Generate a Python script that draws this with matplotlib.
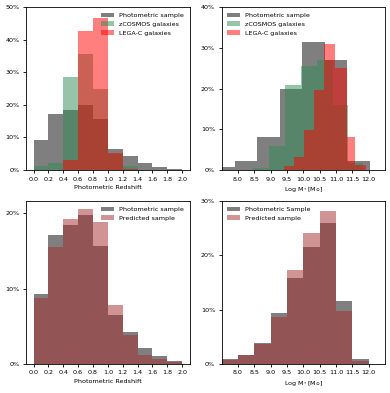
import numpy as np
import matplotlib
matplotlib.use("Agg")
import matplotlib.pyplot as plt
from matplotlib import rcParams
from matplotlib.ticker import PercentFormatter

rcParams['mathtext.default'] = 'regular'
rcParams['font.size'] = 4.6
rcParams['xtick.labelsize'] = 4.6
rcParams['ytick.labelsize'] = 4.6
rcParams['xtick.major.size'] = 2.2
rcParams['ytick.major.size'] = 2.2
rcParams['xtick.major.width'] = 0.6
rcParams['ytick.major.width'] = 0.6
rcParams['xtick.major.pad'] = 2.5
rcParams['ytick.major.pad'] = 2.5
rcParams['axes.linewidth'] = 0.6
rcParams['axes.labelpad'] = 2.5

# redshift histograms (percent per bin)
z_edges = np.round(np.arange(0, 2.01, 0.2), 2)
z_phot = [9.3, 17.2, 18.3, 19.8, 15.6, 6.5, 4.3, 2.1, 1.0, 0.4]
z_zcosmos = [1.2, 2.0, 28.4, 35.6, 25.0, 4.8, 1.3, 0, 0, 0]
z_legac = [0, 0, 3.2, 42.8, 46.8, 5.1, 0.4, 0, 0, 0]
z_phot_b = [9.3, 17.1, 18.4, 19.8, 15.6, 6.5, 4.2, 2.05, 1.0, 0.36]
z_pred = [8.8, 15.5, 19.3, 20.6, 18.9, 7.8, 3.9, 1.25, 0.67, 0.27]

# stellar mass histograms (percent per bin)
m_edges_phot = [7.22, 7.90, 8.59, 9.28, 9.97, 10.66, 11.35, 12.04]
m_phot = [0.83, 2.2, 8.0, 20.0, 31.4, 27.0, 2.1]
m_edges_zc = [8.45, 8.94, 9.43, 9.92, 10.41, 10.90, 11.36, 11.84]
m_zcosmos = [0.4, 5.9, 20.8, 25.5, 27.1, 15.9, 1.8]
m_edges_lc = [9.40, 9.71, 10.02, 10.34, 10.65, 10.96, 11.33, 11.59, 11.92]
m_legac = [1.0, 3.3, 9.9, 19.6, 31.0, 25.1, 8.1, 1.2]
m_edges_b = np.round(np.arange(7.5, 12.01, 0.5), 2)
m_phot_b = [0.93, 1.67, 3.83, 9.46, 15.9, 21.5, 25.9, 11.6, 0.93]
m_pred = [0.8, 1.67, 3.65, 8.6, 17.3, 24.1, 28.1, 9.7, 0.5]

z_ticks = np.round(np.arange(0, 2.01, 0.2), 1)
m_ticks = np.arange(8.0, 12.01, 0.5)
z_label = "Photometric Redshift"
m_label = r"Log M$_{*}$ [M$_{\odot}$]"


def hbar(ax, edges, vals, color, label):
    edges = np.asarray(edges)
    ax.bar(edges[:-1], vals, width=np.diff(edges), align='edge',
           color=color, alpha=0.5, label=label, linewidth=0)


fig, axs = plt.subplots(2, 2, figsize=(3.9, 3.93), dpi=100)
plt.subplots_adjust(left=0.067, right=0.987, top=0.982, bottom=0.074,
                    wspace=0.196, hspace=0.19)

ax = axs[0, 0]
hbar(ax, z_edges, z_phot, 'black', 'Photometric sample')
hbar(ax, z_edges, z_zcosmos, 'seagreen', 'zCOSMOS galaxies')
hbar(ax, z_edges, z_legac, 'red', 'LEGA-C galaxies')
ax.set_ylim(0, 50)
ax.set_yticks([0, 10, 20, 30, 40, 50])
ax.set_xticks(z_ticks)
ax.set_xlabel(z_label)
ax.legend(loc='upper right', frameon=False, fontsize=4.6)

ax = axs[0, 1]
hbar(ax, m_edges_phot, m_phot, 'black', 'Photometric sample')
hbar(ax, m_edges_zc, m_zcosmos, 'seagreen', 'zCOSMOS galaxies')
hbar(ax, m_edges_lc, m_legac, 'red', 'LEGA-C galaxies')
ax.set_ylim(0, 40)
ax.set_yticks([0, 10, 20, 30, 40])
ax.set_xlim(7.5, 12.5)
ax.set_xticks(m_ticks)
ax.set_xlabel(m_label)
ax.legend(loc='upper left', frameon=False, fontsize=4.6)

ax = axs[1, 0]
hbar(ax, z_edges, z_phot_b, 'black', 'Photometric sample')
hbar(ax, z_edges, z_pred, 'brown', 'Predicted sample')
ax.set_yticks([0, 10, 20])
ax.set_xticks(z_ticks)
ax.set_xlabel(z_label)
ax.legend(loc='upper right', frameon=False, fontsize=4.6)

ax = axs[1, 1]
hbar(ax, m_edges_b, m_phot_b, 'black', 'Photometric Sample')
hbar(ax, m_edges_b, m_pred, 'brown', 'Predicted sample')
ax.set_ylim(0, 30)
ax.set_yticks([0, 10, 20, 30])
ax.set_xlim(7.5, 12.5)
ax.set_xticks(m_ticks)
ax.set_xlabel(m_label)
ax.legend(loc='upper left', frameon=False, fontsize=4.6)

for ax in axs.flat:
    ax.yaxis.set_major_formatter(PercentFormatter(decimals=0))

plt.savefig("out.png", dpi=100)
